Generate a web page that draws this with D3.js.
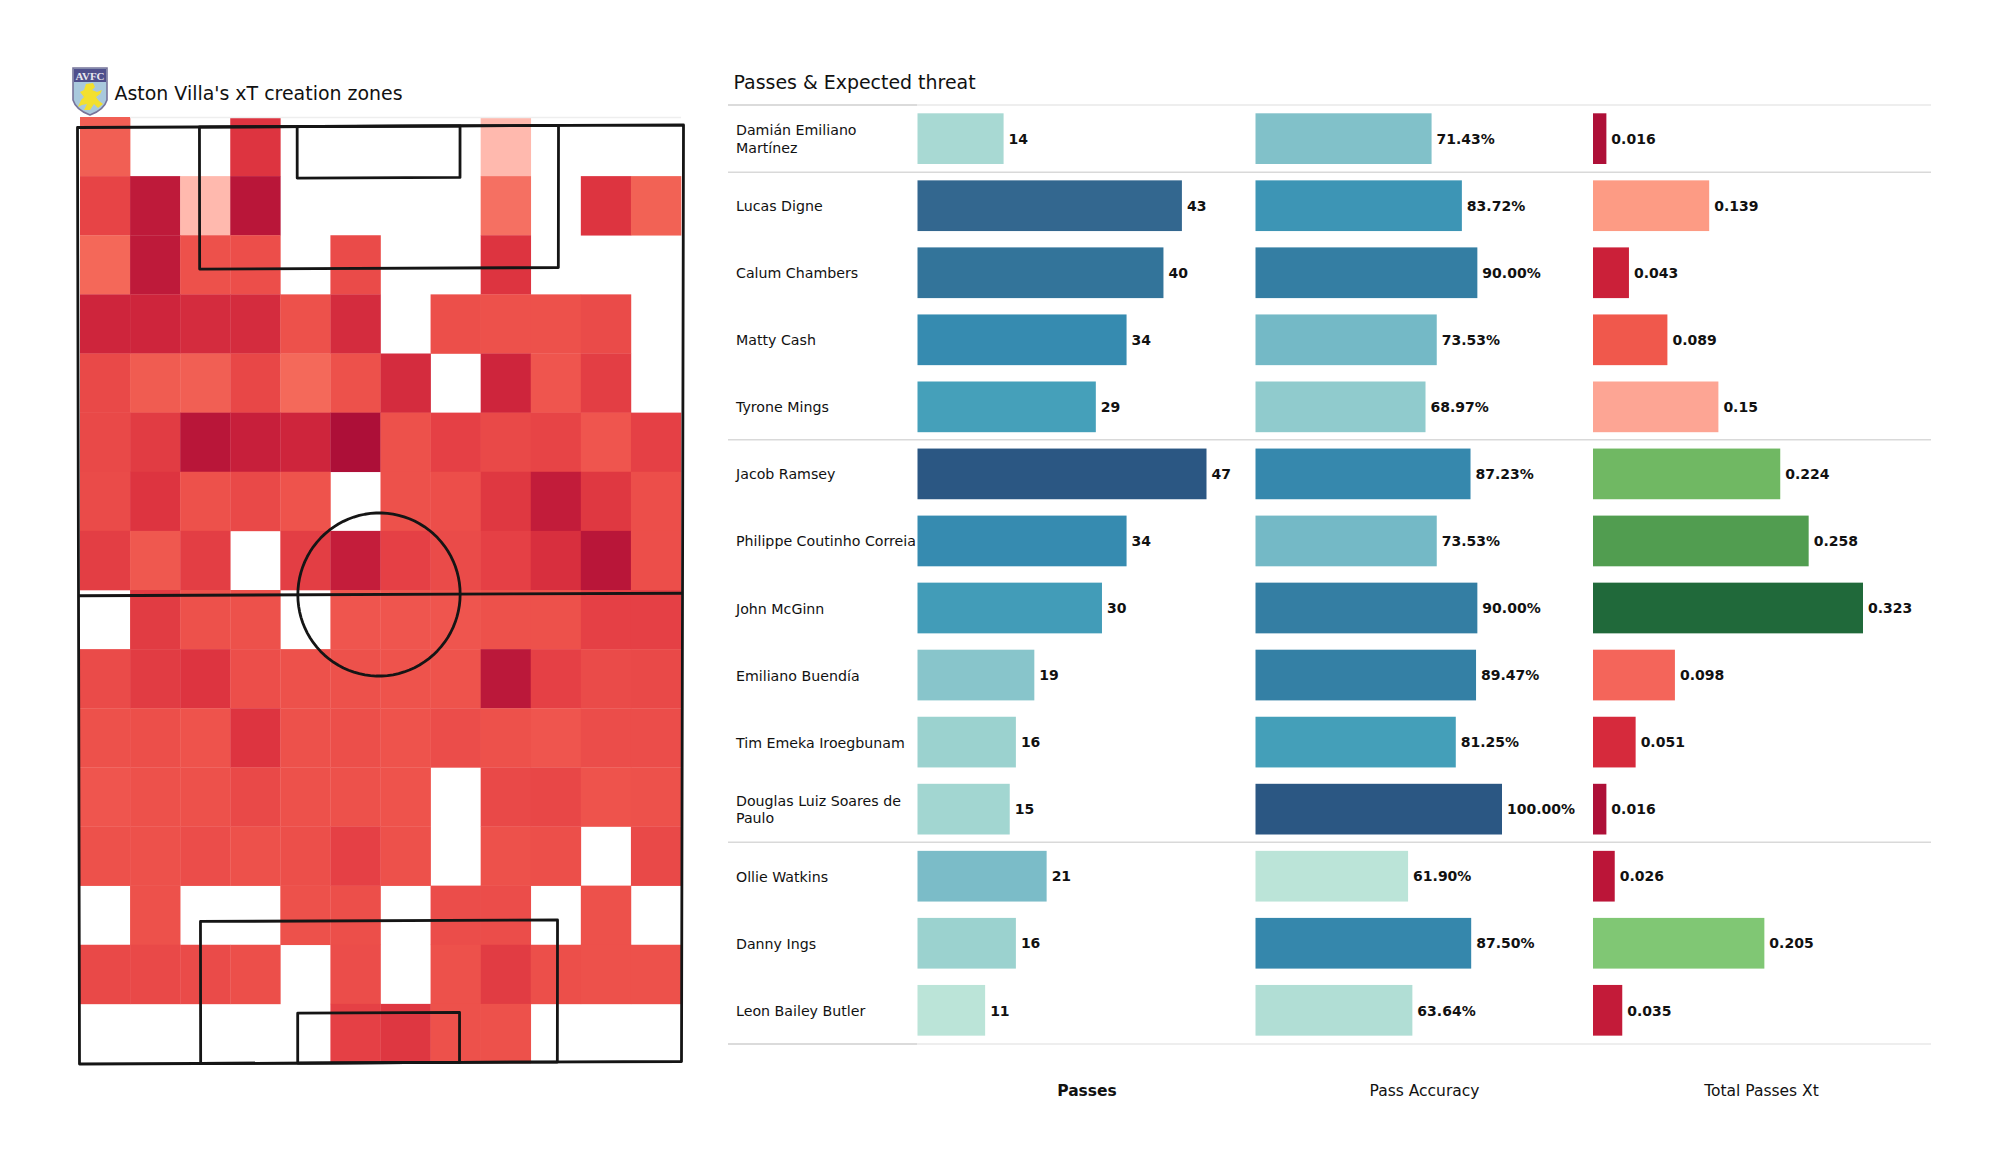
<!DOCTYPE html>
<html><head><meta charset="utf-8">
<script src="https://cdn.jsdelivr.net/npm/d3@7"></script>
<style>html,body{margin:0;padding:0;background:#fff}svg{display:block}text{font-family:"DejaVu Sans",sans-serif;fill:#111}</style>
</head><body><svg id="c" width="2000" height="1175"></svg>
<script>
// ---- data ----
const players = ["Damián Emiliano Martínez","Lucas Digne","Calum Chambers","Matty Cash","Tyrone Mings","Jacob Ramsey","Philippe Coutinho Correia","John McGinn","Emiliano Buendía","Tim Emeka Iroegbunam","Douglas Luiz Soares de Paulo","Ollie Watkins","Danny Ings","Leon Bailey Butler"];
const passes = [14,43,40,34,29,47,34,30,19,16,15,21,16,11];
const accuracy = [71.43,83.72,90,73.53,68.97,87.23,73.53,90,89.47,81.25,100,61.9,87.5,63.64];
const xt = [0.016,0.139,0.043,0.089,0.15,0.224,0.258,0.323,0.098,0.051,0.016,0.026,0.205,0.035];
const xtLabels = ["0.016","0.139","0.043","0.089","0.15","0.224","0.258","0.323","0.098","0.051","0.016","0.026","0.205","0.035"];
const columnTitles = ["Passes","Pass Accuracy","Total Passes Xt"];
const _ = null;
const zones = [
[.30,_,_,.68,_,_,_,_,0,_,_,_],
[.55,.90,0,.93,_,_,_,_,.20,_,.68,.28],
[.23,.90,.42,.45,_,.48,_,_,.68,_,_,_],
[.80,.80,.75,.75,.42,.75,_,.44,.42,.42,.48,_],
[.50,.33,.30,.52,.22,.42,.75,_,.80,.38,.60,_],
[.50,.62,.93,.85,.80,1,.42,.58,.50,.55,.38,.58],
[.48,.68,.42,.50,.40,_,.42,.45,.65,.88,.65,.45],
[.60,.36,.60,_,.60,.87,.58,.48,.58,.72,.93,.45],
[_,.62,.42,.42,_,.38,.38,.38,.42,.42,.58,.58],
[.48,.62,.68,.45,.42,.42,.40,.40,.92,.58,.48,.50],
[.42,.44,.40,.68,.42,.44,.40,.46,.42,.38,.46,.46],
[.38,.42,.42,.50,.42,.42,.40,_,.50,.52,.40,.42],
[.42,.42,.46,.42,.44,.58,.42,_,.42,.44,_,.50],
[_,.42,_,_,.42,.44,_,.46,.46,_,.42,_],
[.50,.50,.48,.44,_,.46,_,.42,.62,.44,.42,.42],
[_,_,_,_,_,.58,.66,.42,.42,_,_,_]
];
// palettes
const zoneStops = [0,.22,.40,.55,.70,.85,1];
const zoneColors = ["#ffb9ae","#f4695a","#ee534c","#e74446","#db323f","#c71f3b","#ad0f38"];
const blueStops = [0,.14,.28,.5,.64,.8,.89,1];
const blueColors = ["#bbe4d8","#9bd2cf","#7abcc8","#45a0ba","#368bb0","#33759b","#33678f","#2b5783"];
const xtStops = [.016,.026,.043,.051,.089,.098,.139,.15,.205,.224,.258,.323];
const xtColors = ["#ae1038","#bb1538","#cb2039","#d62a3c","#f0584c","#f4655a","#fd9b84","#fda594","#80c774","#70b863","#519d50","#20693a"];

const svg = d3.select("#c");
const zoneColor = d3.scaleLinear().domain(zoneStops).range(zoneColors);
const blue = d3.scaleLinear().domain(blueStops).range(blueColors);
const xtColor = d3.scaleLinear().domain(xtStops).range(xtColors);

// ---- heat map ----
const cx = d3.scaleBand().domain(d3.range(12)).range([80,681]);
const cy = d3.scaleBand().domain(d3.range(16)).range([117,1063]);
const gh = svg.append("g");
svg.append("line").attr("x1",130).attr("x2",681).attr("y1",117.5).attr("y2",117.5).attr("stroke","#eeeeee").attr("stroke-width",1.5);
zones.forEach((row,r)=>row.forEach((v,c)=>{
  if(v===null) return;
  gh.append("rect").attr("x",cx(c)).attr("y",cy(r)).attr("width",cx.bandwidth()+.3).attr("height",cy.bandwidth()+.3).attr("fill",zoneColor(v));
}));

// ---- pitch (slightly skewed as in the picture) ----
const TL=[77.5,127.5],TR=[683.5,125],BL=[79.5,1064],BR=[681.5,1061.5];
const P=(u,v)=>{const a=u/80,b=v/120;
  const x=(1-b)*((1-a)*TL[0]+a*TR[0])+b*((1-a)*BL[0]+a*BR[0]);
  const y=(1-b)*((1-a)*TL[1]+a*TR[1])+b*((1-a)*BL[1]+a*BR[1]);return [x,y];};
const line=d3.line();
const pitch=svg.append("g").attr("fill","none").attr("stroke","#151515").attr("stroke-width",2.8).attr("stroke-linejoin","round");
const boxes=[[0,0,80,120],[16.1,0,63.5,18.2],[29,0,50.5,6.6],[16.1,101.8,63.5,120],[29,113.6,50.5,120]];
boxes.forEach(([a,b,c,d])=>pitch.append("path").attr("d",line([P(a,b),P(c,b),P(c,d),P(a,d)])+"Z"));
pitch.append("path").attr("d",line([P(0,60),P(80,60)]));
pitch.append("path").attr("d",line(d3.range(0,361,4).map(t=>{const r=t*Math.PI/180;return P(39.8+10.75*Math.cos(r),60+10.45*Math.sin(r));})));

// ---- crest ----
const crest=svg.append("g");
crest.append("path").attr("d","M73,68 L107,68 L107,100 Q104,110 90,115 Q76,110 73,100 Z").attr("fill","#a9c9dd").attr("stroke","#77749a").attr("stroke-width",1.6);
crest.append("path").attr("d","M74,69 L106,69 L106,82 L74,82 Z").attr("fill","#4f4f8c");
crest.append("text").attr("x",90).attr("y",79.5).attr("text-anchor","middle").attr("font-size",11).attr("font-weight","bold").attr("style","font-family:'Liberation Serif',serif;fill:#e8e8f0").text("AVFC");
crest.append("path").attr("d","M86,84 L93,83 L95,87 L92,90 L97,92 L102,90 L100,94 L96,97 L99,101 L103,104 L98,108 L94,104 L90,110 L84,110 L87,104 L82,105 L78,107 L81,100 L84,97 L80,92 L84,90 Z").attr("fill","#f3e02e");

// ---- titles ----
svg.append("text").attr("x",114.5).attr("y",100).attr("font-size",18.95).text("Aston Villa's xT creation zones");
svg.append("text").attr("x",733.5).attr("y",89).attr("font-size",18.95).text("Passes & Expected threat");

// ---- table ----
const rowTop=i=>113.3+67.05*i, barH=50.7;
const xP=d3.scaleLinear().domain([0,47]).range([917.5,1206.5]);
const xA=d3.scaleLinear().domain([0,100]).range([1255.5,1502]);
const xX=d3.scaleLinear().domain([0,.323]).range([1593,1863]);
const tP=d3.scaleLinear().domain([11,47]).range([0,1]);
const tA=d3.scaleLinear().domain([61.9,100]).range([0,1]);
const columns=[
 {x:xP,vals:passes,col:v=>blue(tP(v)),lab:i=>String(passes[i])},
 {x:xA,vals:accuracy,col:v=>blue(tA(v)),lab:i=>accuracy[i].toFixed(2)+"%"},
 {x:xX,vals:xt,col:v=>xtColor(v),lab:i=>xtLabels[i]}
];
const g=svg.append("g");
columns.forEach(c=>{
  c.vals.forEach((v,i)=>{
    g.append("rect").attr("x",c.x(0)).attr("y",rowTop(i)).attr("width",c.x(v)-c.x(0)).attr("height",barH).attr("fill",c.col(v));
    g.append("text").attr("x",c.x(v)+5).attr("y",rowTop(i)+barH/2+5.2).attr("font-size",14).attr("font-weight","bold").text(c.lab(i));
  });
});
const wraps={"Damián Emiliano Martínez":["Damián Emiliano","Martínez"],"Douglas Luiz Soares de Paulo":["Douglas Luiz Soares de","Paulo"]};
players.forEach((p,i)=>{
  const ls=wraps[p]||[p], mid=rowTop(i)+barH/2;
  ls.forEach((l,k)=>g.append("text").attr("x",736).attr("y",mid+5.5-(ls.length-1)*8.8+k*17.6).attr("font-size",14.2).text(l));
});
// rules
[105,172.3,439.7,842.3,1044].forEach((y,n)=>{
  const light=n===0||n===4;
  g.append("line").attr("x1",728).attr("x2",1931).attr("y1",y).attr("y2",y).attr("stroke",light?"#e9e9e9":"#d9d9d9").attr("stroke-width",1.5);
  if(light) g.append("line").attr("x1",728).attr("x2",917).attr("y1",y).attr("y2",y).attr("stroke","#d4d4d4").attr("stroke-width",1.5);
});
const footX=[1087,1424.5,1761.5];
columnTitles.forEach((t,i)=>g.append("text").attr("x",footX[i]).attr("y",1095.5).attr("text-anchor","middle").attr("font-size",15.5).attr("font-weight",i===0?"bold":"normal").text(t));
</script></body></html>
